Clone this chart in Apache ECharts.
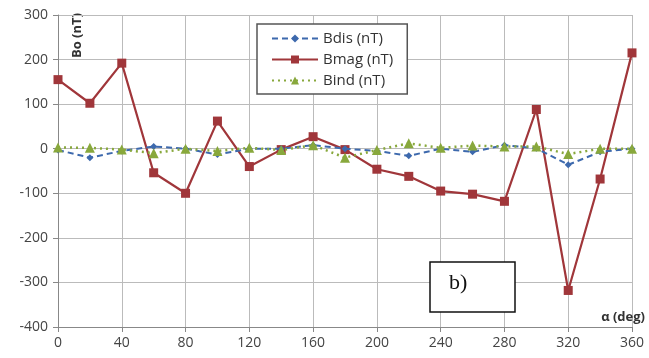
<!DOCTYPE html>
<html><head><meta charset="utf-8">
<script src="https://cdn.jsdelivr.net/npm/echarts@6/dist/echarts.min.js"></script>
<style>html,body{margin:0;padding:0;background:#fff}#c{width:649px;height:358px}</style>
</head><body><div id="c"></div>
<script>
const angles = [0,20,40,60,80,100,120,140,160,180,200,220,240,260,280,300,320,340,360];
const bdis = [-3,-20,-5,5,0,-13,0,0,8,0,-5,-16,0,-7,8,1,-36,-7,0];
const bmag = [155,102,192,-54,-100,62,-40,-2,27,-2,-46,-62,-95,-102,-118,88,-318,-68,215];
const bind = [3,2,-2,-10,0,-5,2,-3,8,-20,-3,12,2,7,5,5,-12,0,0];
const xTicks = [0,40,80,120,160,200,240,280,320,360];
const yTicks = [-400,-300,-200,-100,0,100,200,300];
const FONT = '"Open Sans"';
const pairs = v => angles.map((a,i)=>[a,v[i]]);
const chart = echarts.init(document.getElementById('c'));
chart.setOption({
  animation:false,
  textStyle:{fontFamily:FONT},
  grid:{left:58,right:17,top:15,bottom:31},
  xAxis:{type:'value',min:xTicks[0],max:xTicks[xTicks.length-1],interval:40,
    name:'α (deg)',nameLocation:'end',nameGap:13,
    nameTextStyle:{fontFamily:FONT,fontWeight:'bold',fontSize:13,color:'#333',align:'right',verticalAlign:'bottom',padding:[0,0,3,0]},
    axisLine:{onZero:false,lineStyle:{color:'#888',width:1}},
    axisTick:{show:true,length:5,lineStyle:{color:'#888'}},
    axisLabel:{color:'#444',fontSize:14,margin:9},
    splitLine:{show:true,lineStyle:{color:'#bbb',width:1}}},
  yAxis:{type:'value',min:yTicks[0],max:yTicks[yTicks.length-1],interval:100,
    axisLine:{show:true,lineStyle:{color:'#888'}},
    axisTick:{show:true,length:5,lineStyle:{color:'#888'}},
    axisLabel:{color:'#444',fontSize:14,margin:10},
    splitLine:{show:true,lineStyle:{color:'#bbb',width:1}}},
  legend:{orient:'vertical',left:257,top:24,itemWidth:46,itemHeight:10,itemGap:6,
    padding:[7,14,6,14],borderColor:'#555',borderWidth:1.5,backgroundColor:'#fff',
    textStyle:{fontFamily:FONT,fontSize:15,color:'#333'},
    data:['Bdis (nT)','Bmag (nT)','Bind (nT)']},
  graphic:[
    {type:'text',left:71,top:13,rotation:Math.PI/2,style:{text:'Bo (nT)',font:'bold 13px '+FONT,fill:'#333'}},
    {type:'rect',shape:{x:430,y:262,width:85,height:50},style:{fill:'#fff',stroke:'#111',lineWidth:1.5},z:100},
    {type:'text',left:449,top:272,z:101,style:{text:'b)',font:'22px "Liberation Serif"',fill:'#111'}}
  ],
  series:[
    {name:'Bdis (nT)',type:'line',data:pairs(bdis),symbol:'diamond',symbolSize:7,
      lineStyle:{color:'#3d69ad',width:2,type:[6,4]},itemStyle:{color:'#3d69ad'},z:3},
    {name:'Bmag (nT)',type:'line',data:pairs(bmag),symbol:'rect',symbolSize:9,
      lineStyle:{color:'#a0363a',width:2.2},itemStyle:{color:'#a0363a'},z:2},
    {name:'Bind (nT)',type:'line',data:pairs(bind),symbol:'triangle',symbolSize:10,
      lineStyle:{color:'#88a83c',width:2.5,type:[2,4]},itemStyle:{color:'#88a83c'},z:4}
  ]
});
</script></body></html>
